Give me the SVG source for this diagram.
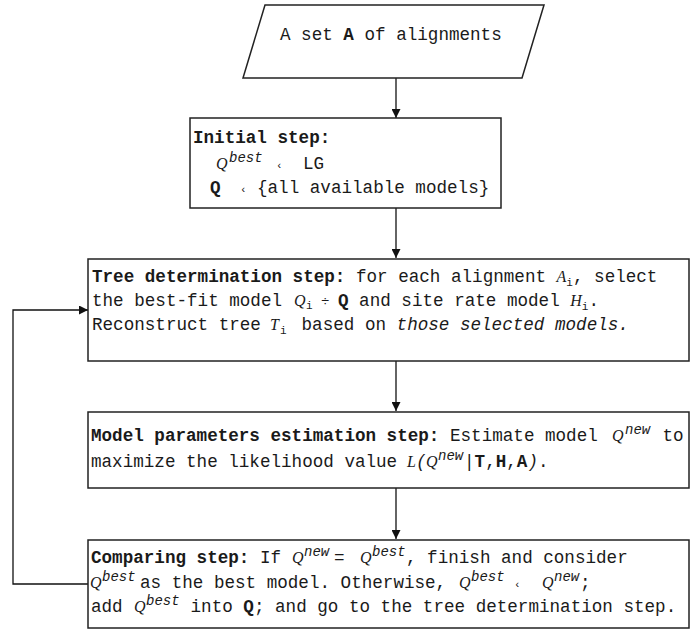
<svg xmlns="http://www.w3.org/2000/svg" width="691" height="630" viewBox="0 0 691 630">
<style>
text{font-family:"Liberation Mono","Courier New",monospace;font-size:17.6px;fill:#1a1a1a}
.b{font-weight:bold}
.i{font-style:italic}
.m{font-family:"Liberation Serif","Times New Roman",serif;font-style:italic;font-size:16px}
.s{font-style:italic;font-size:14px}
.t{font-size:11px}
.d{font-size:14px}
.box{fill:#fff;stroke:#222;stroke-width:1.5}
.ln{fill:none;stroke:#111;stroke-width:1.3}
</style>
<defs>
<marker id="ah" viewBox="0 0 10 10" refX="10" refY="5" markerWidth="9" markerHeight="9" markerUnits="userSpaceOnUse" orient="auto">
<path d="M0,0 L10,5 L0,10 z" fill="#111"/>
</marker>
</defs>
<rect width="691" height="630" fill="#fff"/>
<g id="connectors">
<line class="ln" x1="396" y1="78" x2="396" y2="118" marker-end="url(#ah)"/>
<line class="ln" x1="396" y1="208" x2="396" y2="258" marker-end="url(#ah)"/>
<line class="ln" x1="396" y1="361" x2="396" y2="411" marker-end="url(#ah)"/>
<line class="ln" x1="396" y1="488" x2="396" y2="539" marker-end="url(#ah)"/>
<polyline class="ln" points="88,584 13,584 13,310 88,310" marker-end="url(#ah)"/>
</g>
<g id="input">
<polygon class="box" points="265,5 544,5 522,78 243,78"/>
<text x="280" y="40">A set <tspan class="b">A</tspan> of alignments</text>
</g>
<g id="initial">
<rect class="box" x="190" y="118" width="311" height="90"/>
<text x="193" y="143" class="b">Initial step:</text>
<text y="169"><tspan x="216" class="m">Q</tspan><tspan x="229" dy="-7" class="s">best</tspan><tspan x="276" dy="7" class="t">‹</tspan><tspan x="303">LG</tspan></text>
<text y="193"><tspan x="210" class="b">Q</tspan><tspan x="240" class="t">‹</tspan><tspan x="257">{all available models}</tspan></text>
</g>
<g id="tree">
<rect class="box" x="88" y="259" width="601" height="102"/>
<text y="282"><tspan x="92" class="b">Tree determination step:</tspan><tspan> for each alignment </tspan><tspan class="m">A</tspan><tspan dy="4" class="t">i</tspan><tspan dy="-4">, select</tspan></text>
<text y="306"><tspan x="92">the best-fit model </tspan><tspan x="294" class="m">Q</tspan><tspan x="306" dy="3" class="t">i</tspan><tspan x="321" dy="-3" class="d">÷</tspan><tspan x="338" class="b">Q</tspan><tspan> and site rate model </tspan><tspan class="m">H</tspan><tspan dy="4" class="t">i</tspan><tspan dy="-4">.</tspan></text>
<text y="330"><tspan x="92">Reconstruct tree </tspan><tspan x="270" class="m">T</tspan><tspan x="280" dy="4" class="t">i</tspan><tspan x="291" dy="-4"> based on </tspan><tspan class="i">those selected models.</tspan></text>
</g>
<g id="model">
<rect class="box" x="88" y="412" width="601" height="76"/>
<text y="441"><tspan x="91" class="b">Model parameters estimation step:</tspan><tspan> Estimate model </tspan><tspan x="612" class="m">Q</tspan><tspan x="625" dy="-7" class="s">new</tspan><tspan x="652" dy="7"> to</tspan></text>
<text y="467"><tspan x="91">maximize the likelihood value </tspan><tspan x="407" class="m">L</tspan><tspan x="416" class="i">(</tspan><tspan x="426" class="m">Q</tspan><tspan x="438" dy="-7" class="s">new</tspan><tspan x="464" dy="7">|</tspan><tspan class="b">T</tspan>,<tspan class="b">H</tspan>,<tspan class="b">A</tspan><tspan class="i">)</tspan>.</text>
</g>
<g id="compare">
<rect class="box" x="88" y="540" width="601" height="88"/>
<text y="563"><tspan x="91" class="b">Comparing step:</tspan><tspan> If </tspan><tspan x="292" class="m">Q</tspan><tspan x="304" dy="-7" class="s">new</tspan><tspan x="334" dy="7">=</tspan><tspan x="360" class="m">Q</tspan><tspan x="372" dy="-7" class="s">best</tspan><tspan x="406" dy="7">, finish and consider</tspan></text>
<text y="588"><tspan x="90" class="m">Q</tspan><tspan x="102" dy="-7" class="s">best</tspan><tspan x="140" dy="7">as the best model. Otherwise, </tspan><tspan x="459" class="m">Q</tspan><tspan x="471" dy="-7" class="s">best</tspan><tspan x="514" dy="7" class="t">‹</tspan><tspan x="542" class="m">Q</tspan><tspan x="554" dy="-7" class="s">new</tspan><tspan x="580" dy="7">;</tspan></text>
<text y="612"><tspan x="91">add </tspan><tspan x="134" class="m">Q</tspan><tspan x="146" dy="-7" class="s">best</tspan><tspan x="180" dy="7"> into </tspan><tspan class="b">Q</tspan><tspan>; and go to the tree determination step.</tspan></text>
</g>
</svg>
